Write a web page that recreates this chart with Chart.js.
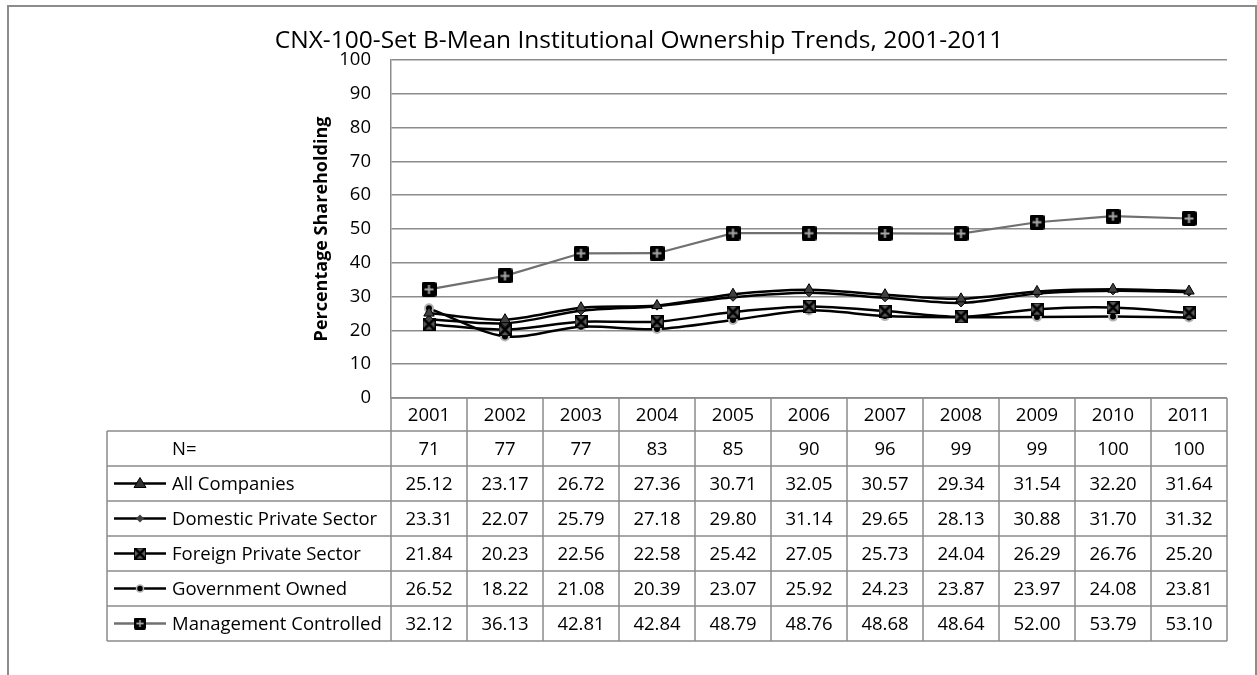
<!DOCTYPE html>
<html>
<head>
<meta charset="utf-8">
<title>CNX-100-Set B-Mean Institutional Ownership Trends</title>
<script src="https://cdn.jsdelivr.net/npm/chart.js@4/dist/chart.umd.min.js"></script>
<style>
  body { margin: 0; background: #fff; }
  canvas { display: block; }
</style>
</head>
<body>
<canvas id="ownershipChart" width="1257" height="675"></canvas>
<script>
const years = ['2001', '2002', '2003', '2004', '2005', '2006', '2007', '2008', '2009', '2010', '2011'];
const companyCounts = [71, 77, 77, 83, 85, 90, 96, 99, 99, 100, 100];
const allCompanies = [25.12, 23.17, 26.72, 27.36, 30.71, 32.05, 30.57, 29.34, 31.54, 32.20, 31.64];
const domesticPrivate = [23.31, 22.07, 25.79, 27.18, 29.80, 31.14, 29.65, 28.13, 30.88, 31.70, 31.32];
const foreignPrivate = [21.84, 20.23, 22.56, 22.58, 25.42, 27.05, 25.73, 24.04, 26.29, 26.76, 25.20];
const governmentOwned = [26.52, 18.22, 21.08, 20.39, 23.07, 25.92, 24.23, 23.87, 23.97, 24.08, 23.81];
const managementControlled = [32.12, 36.13, 42.81, 42.84, 48.79, 48.76, 48.68, 48.64, 52.00, 53.79, 53.10];
const yTicks = [0, 10, 20, 30, 40, 50, 60, 70, 80, 90, 100];

const FONT = '"Open Sans", sans-serif';
const GRID = '#8c8c8c';

// Build the two boxed markers (Excel's X-box and plus-box)
function makeXBox(size) {
    const c = document.createElement('canvas');
    c.width = size; c.height = size;
    const g = c.getContext('2d');
    g.fillStyle = '#5a5a5a';
    g.fillRect(0, 0, size, size);
    g.strokeStyle = '#000';
    g.lineWidth = 2.5;
    g.beginPath();
    g.moveTo(1, 1); g.lineTo(size - 1, size - 1);
    g.moveTo(size - 1, 1); g.lineTo(1, size - 1);
    g.stroke();
    g.lineWidth = 1;
    g.strokeRect(0.5, 0.5, size - 1, size - 1);
    return c;
}

function makePlusBox(size) {
    const c = document.createElement('canvas');
    c.width = size; c.height = size;
    const g = c.getContext('2d');
    g.fillStyle = '#000';
    g.beginPath();
    g.roundRect(0, 0, size, size, 2);
    g.fill();
    g.strokeStyle = '#a8a8a8';
    g.lineWidth = 2;
    g.beginPath();
    g.moveTo(size / 2, 3); g.lineTo(size / 2, size - 3);
    g.moveTo(3, size / 2); g.lineTo(size - 3, size / 2);
    g.stroke();
    return c;
}

const xBox = makeXBox(13);
const plusBox = makePlusBox(15);

const series = [
    { label: 'All Companies', data: allCompanies },
    { label: 'Domestic Private Sector', data: domesticPrivate },
    { label: 'Foreign Private Sector', data: foreignPrivate },
    { label: 'Government Owned', data: governmentOwned },
    { label: 'Management Controlled', data: managementControlled }
];

// Draw a legend key in the data table
function drawKey(ctx, idx, x, y) {
    ctx.save();
    ctx.strokeStyle = idx === 4 ? '#707070' : '#000';
    ctx.lineWidth = 2.5;
    ctx.beginPath();
    ctx.moveTo(x - 26, y);
    ctx.lineTo(x + 26, y);
    ctx.stroke();
    ctx.lineWidth = 1;
    if (idx === 0) {
        ctx.fillStyle = '#303030';
        ctx.strokeStyle = '#000';
        ctx.beginPath();
        ctx.moveTo(x, y - 6); ctx.lineTo(x + 6, y + 4); ctx.lineTo(x - 6, y + 4);
        ctx.closePath(); ctx.fill(); ctx.stroke();
    } else if (idx === 1) {
        ctx.fillStyle = '#404040';
        ctx.beginPath();
        ctx.moveTo(x, y - 4); ctx.lineTo(x + 4, y); ctx.lineTo(x, y + 4); ctx.lineTo(x - 4, y);
        ctx.closePath(); ctx.fill();
    } else if (idx === 2) {
        ctx.drawImage(xBox, x - 6, y - 6, 12, 12);
    } else if (idx === 3) {
        ctx.fillStyle = '#000';
        ctx.strokeStyle = '#b4b4b4';
        ctx.lineWidth = 1.5;
        ctx.beginPath();
        ctx.arc(x, y, 3.5, 0, Math.PI * 2);
        ctx.fill(); ctx.stroke();
    } else {
        ctx.drawImage(plusBox, x - 6, y - 6, 12, 12);
    }
    ctx.restore();
}

// Data table under the plot, frame around the whole chart
const dataTablePlugin = {
    id: 'dataTable',
    afterDraw(chart) {
        const ctx = chart.ctx;
        const xScale = chart.scales.x;
        const area = chart.chartArea;
        const colW = (area.right - area.left) / years.length;
        const tableLeft = 107;
        const headerTop = area.bottom;
        const headerH = 33;
        const rowH = 35;
        const rowsTop = headerTop + headerH;
        const rowLabels = ['N='].concat(series.map(s => s.label));
        const rowValues = [companyCounts.map(String)].concat(series.map(s => s.data.map(v => v.toFixed(2))));
        const tableBottom = rowsTop + rowH * rowLabels.length;

        ctx.save();
        // outer frame
        ctx.strokeStyle = GRID;
        ctx.lineWidth = 2;
        ctx.beginPath();
        ctx.moveTo(8, 700); ctx.lineTo(8, 6); ctx.lineTo(1256, 6); ctx.lineTo(1256, 700);
        ctx.stroke();

        // table grid lines
        ctx.lineWidth = 1.5;
        ctx.beginPath();
        ctx.moveTo(area.right, headerTop); ctx.lineTo(area.right, tableBottom);
        ctx.moveTo(tableLeft, rowsTop); ctx.lineTo(tableLeft, tableBottom);
        for (let i = 0; i < years.length; i++) {
            const left = xScale.getPixelForValue(i) - colW / 2;
            ctx.moveTo(left, headerTop); ctx.lineTo(left, tableBottom);
        }
        ctx.moveTo(area.left, headerTop); ctx.lineTo(area.right, headerTop);
        for (let r = 0; r <= rowLabels.length; r++) {
            const y = rowsTop + r * rowH;
            ctx.moveTo(tableLeft, y); ctx.lineTo(area.right, y);
        }
        ctx.stroke();

        // text
        ctx.fillStyle = '#000';
        ctx.font = '18.5px ' + FONT;
        ctx.textBaseline = 'middle';
        ctx.textAlign = 'center';
        years.forEach((yr, i) => {
            ctx.fillText(yr, xScale.getPixelForValue(i), headerTop + headerH / 2 + 1);
        });
        rowLabels.forEach((lbl, r) => {
            const cy = rowsTop + r * rowH + rowH / 2 + 1;
            ctx.textAlign = 'left';
            ctx.fillText(lbl, 172, cy);
            if (r > 0) drawKey(ctx, r - 1, 140, cy - 1);
            ctx.textAlign = 'center';
            rowValues[r].forEach((v, i) => {
                ctx.fillText(v, xScale.getPixelForValue(i), cy);
            });
        });
        ctx.restore();
    }
};

const ctx = document.getElementById('ownershipChart').getContext('2d');
const ownershipChart = new Chart(ctx, {
    type: 'line',
    data: {
        labels: years,
        datasets: [
            {
                label: series[0].label,
                data: allCompanies,
                borderColor: '#000',
                borderWidth: 2.5,
                tension: 0.3,
                pointStyle: 'triangle',
                pointRadius: 6,
                pointBackgroundColor: '#404040',
                pointBorderColor: '#000',
                pointBorderWidth: 1
            },
            {
                label: series[1].label,
                data: domesticPrivate,
                borderColor: '#000',
                borderWidth: 2.5,
                tension: 0.3,
                pointStyle: 'rectRot',
                pointRadius: 4,
                pointBackgroundColor: '#404040',
                pointBorderColor: '#000',
                pointBorderWidth: 1
            },
            {
                label: series[2].label,
                data: foreignPrivate,
                borderColor: '#000',
                borderWidth: 2.5,
                tension: 0.3,
                pointStyle: xBox
            },
            {
                label: series[3].label,
                data: governmentOwned,
                borderColor: '#000',
                borderWidth: 2.5,
                tension: 0.3,
                pointStyle: 'circle',
                pointRadius: 4,
                pointBackgroundColor: '#000',
                pointBorderColor: '#b4b4b4',
                pointBorderWidth: 2
            },
            {
                label: series[4].label,
                data: managementControlled,
                borderColor: '#707070',
                borderWidth: 2.2,
                tension: 0,
                pointStyle: plusBox
            }
        ]
    },
    options: {
        responsive: false,
        animation: false,
        layout: {
            padding: { left: 51, right: 30, top: 0, bottom: 277 }
        },
        plugins: {
            legend: { display: false },
            tooltip: { enabled: false },
            title: {
                display: true,
                text: 'CNX-100-Set B-Mean Institutional Ownership Trends, 2001-2011',
                color: '#000',
                font: { family: FONT, size: 24.5, weight: 'normal' },
                padding: { top: 26, bottom: 4.6 }
            }
        },
        scales: {
            x: {
                display: false,
                offset: true
            },
            y: {
                min: 0,
                max: 100,
                afterBuildTicks(scale) {
                    scale.ticks = yTicks.map(v => ({ value: v }));
                },
                afterFit(scale) {
                    scale.width = 391 - 51;
                },
                grid: {
                    color: GRID,
                    lineWidth: 1.5,
                    drawTicks: false
                },
                border: { color: GRID, width: 1.5 },
                ticks: {
                    color: '#000',
                    padding: 20,
                    font: { family: FONT, size: 18.5 }
                },
                title: {
                    display: true,
                    text: 'Percentage Shareholding',
                    color: '#000',
                    font: { family: FONT, size: 18, weight: 'bold' },
                    padding: { top: 260, bottom: 0 }
                }
            }
        }
    },
    plugins: [dataTablePlugin]
});
</script>
</body>
</html>
